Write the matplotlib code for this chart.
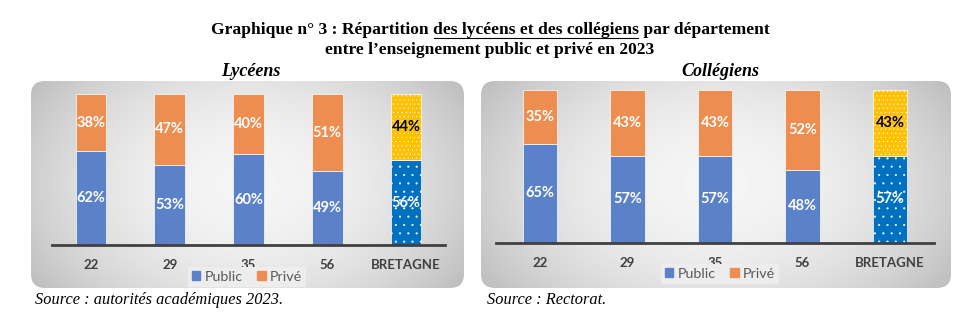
import matplotlib.pyplot as plt
import numpy as np
from matplotlib.patches import FancyBboxPatch, Patch

# données
departements = ["22", "29", "35", "56", "BRETAGNE"]
lycees_public = [62, 53, 60, 49, 56]
lycees_prive = [38, 47, 40, 51, 44]
colleges_public = [65, 57, 57, 48, 57]
colleges_prive = [35, 43, 43, 52, 43]

BLUE = "#5B82C8"
ORANGE = "#ED8D4F"
BLUE_BZH = "#0070C0"
YELLOW_BZH = "#FFC000"
SANS = ["Lato", "DejaVu Sans"]
SERIF = ["Liberation Serif", "DejaVu Serif"]

W, H = 965, 329
plt.rcParams["hatch.linewidth"] = 0.3

fig = plt.figure(figsize=(W / 100, H / 100), dpi=100)
bg = fig.add_axes([0, 0, 1, 1])
bg.axis("off")


def panel(x0, y0, x1, y1):
    u, v = np.meshgrid(np.linspace(-1, 1, 300), np.linspace(-1, 1, 150))
    g = 0.96 - 0.15 * u ** 2 - 0.07 * v ** 2
    im = bg.imshow(g, cmap="gray", vmin=0, vmax=1, extent=(x0, x1, y1, y0),
                   aspect="auto", interpolation="bilinear", zorder=0)
    box = FancyBboxPatch((x0, y0), x1 - x0, y1 - y0,
                         boxstyle="round,pad=0,rounding_size=14",
                         facecolor="none", edgecolor="none")
    bg.add_patch(box)
    im.set_clip_path(box)


panel(31, 81, 464, 288)
panel(481, 81, 951, 288)
bg.set_xlim(0, W)
bg.set_ylim(H, 0)

# titre (avec soulignement partiel)
TSIZE = 12.6
renderer = fig.canvas.get_renderer()
parts = ["Graphique n° 3 : Répartition ", "des lycéens et des collégiens", " par département"]
widths = []
for p in parts:
    t = bg.text(0, 0, p, fontsize=TSIZE, fontweight="bold", family=SERIF)
    widths.append(t.get_window_extent(renderer).width)
    t.remove()
x = 490 - sum(widths) / 2
for i, p in enumerate(parts):
    bg.text(x, 30, p, fontsize=TSIZE, fontweight="bold", family=SERIF, va="center", ha="left")
    if i == 1:
        bg.plot([x + 1, x + widths[i] - 1], [38, 38], color="black", lw=0.8)
    x += widths[i]
bg.text(490, 50, "entre l’enseignement public et privé en 2023", fontsize=TSIZE,
        fontweight="bold", family=SERIF, ha="center", va="center")
bg.text(251, 72, "Lycéens", fontsize=13, fontweight="bold", style="italic",
        family=SERIF, ha="center", va="center")
bg.text(720, 72, "Collégiens", fontsize=13, fontweight="bold", style="italic",
        family=SERIF, ha="center", va="center")
bg.text(35, 300, "Source : autorités académiques 2023.", fontsize=11.8, style="italic",
        family=SERIF, ha="left", va="center")
bg.text(487, 300, "Source : Rectorat.", fontsize=11.8, style="italic",
        family=SERIF, ha="left", va="center")


def chart(left, right, base, top, public, prive, legend_xy):
    ax = fig.add_axes([left / W, 1 - base / H, (right - left) / W, (base - top) / H])
    ax.patch.set_alpha(0)
    x = np.arange(len(departements))
    pub = ax.bar(x, public, 0.39, color=[BLUE] * 4 + [BLUE_BZH],
                 edgecolor="white", linewidth=0.5, label="Public")
    pri = ax.bar(x, prive, 0.39, bottom=public, color=[ORANGE] * 4 + [YELLOW_BZH],
                 edgecolor="white", linewidth=0.5, label="Privé")
    pub[-1].set_hatch("..")
    pri[-1].set_hatch("....")
    for i in range(len(x)):
        ax.text(x[i], public[i] / 2, f"{public[i]}%", ha="center", va="center",
                color="white", fontsize=10.5, fontweight="bold", family=SANS)
        ax.text(x[i], public[i] + prive[i] / 2, f"{prive[i]}%", ha="center", va="center",
                color="black" if i == len(x) - 1 else "white",
                fontsize=10.5, fontweight="bold", family=SANS)
    ax.set_xlim(-0.5, len(x) - 0.5)
    ax.set_ylim(0, 100)
    ax.set_yticks([])
    ax.set_xticks(x, departements)
    ax.tick_params(axis="x", length=0, pad=10, labelsize=9.5, labelcolor="#404040")
    for lab in ax.get_xticklabels():
        lab.set_fontweight("bold")
        lab.set_family(SANS)
    for s in ["top", "left", "right"]:
        ax.spines[s].set_visible(False)
    ax.spines["bottom"].set_color("#404040")
    ax.spines["bottom"].set_linewidth(2)
    handles = [Patch(color=BLUE, label="Public"), Patch(color=ORANGE, label="Privé")]
    leg = ax.legend(handles=handles, ncol=2, loc="center",
                    bbox_to_anchor=(legend_xy[0] / W, 1 - legend_xy[1] / H),
                    bbox_transform=fig.transFigure, frameon=True, fancybox=False,
                    facecolor="#EDEDED", edgecolor="none", framealpha=1,
                    handlelength=0.6, handleheight=0.6, handletextpad=0.3,
                    columnspacing=1.0, borderpad=0.25,
                    prop={"family": SANS, "size": 10.3})
    for t in leg.get_texts():
        t.set_color("#595959")
    return ax


chart(51.6, 445.4, 245, 94, lycees_public, lycees_prive, (247, 277))
chart(496.2, 933.8, 243, 90, colleges_public, colleges_prive, (720, 274))

fig.savefig("out.png", dpi=100)
